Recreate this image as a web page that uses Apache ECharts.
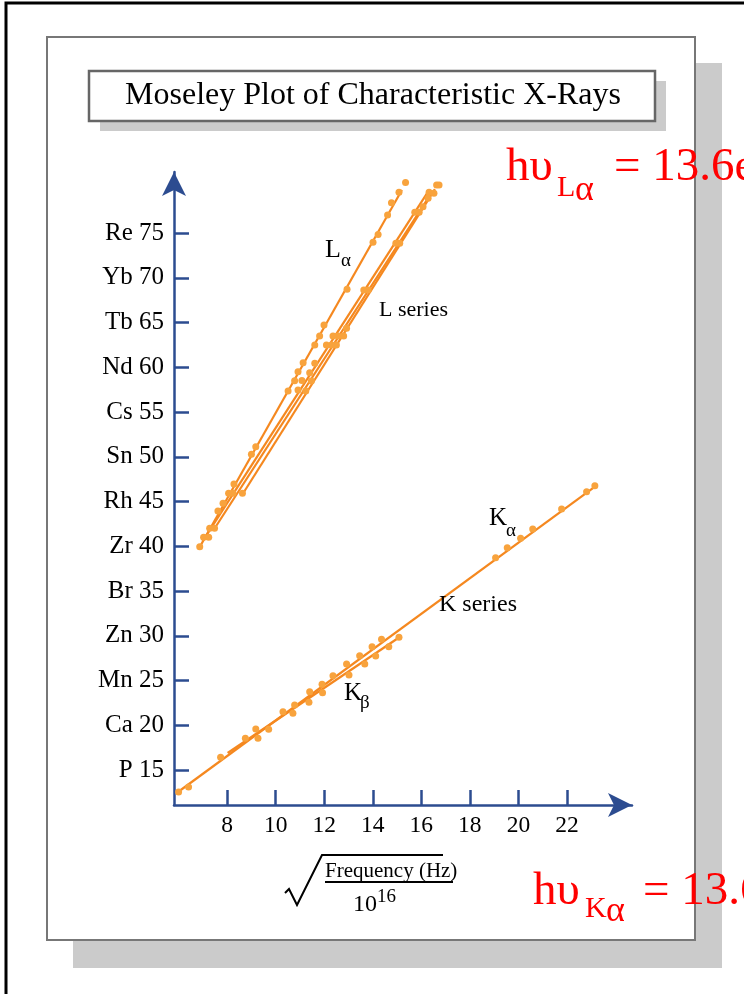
<!DOCTYPE html>
<html>
<head>
<meta charset="utf-8">
<script src="https://cdn.jsdelivr.net/npm/echarts@6/dist/echarts.min.js"></script>
<style>
html,body{margin:0;padding:0;background:#fff;}
#chart{width:744px;height:994px;}
</style>
</head>
<body>
<div id="chart"></div>
<script>
// ---- data ----
const xTicks = [8, 10, 12, 14, 16, 18, 20, 22];
const yTicks = [15, 20, 25, 30, 35, 40, 45, 50, 55, 60, 65, 70, 75];
const yElements = ['P', 'Ca', 'Mn', 'Zn', 'Br', 'Zr', 'Rh', 'Sn', 'Cs', 'Nd', 'Tb', 'Yb', 'Re'];

const kAlphaPoints = [
  [6.00, 12.54], [6.41, 13.10], [7.73, 16.42], [8.75, 18.54], [9.18, 19.58],
  [10.30, 21.51], [10.78, 22.26], [11.40, 23.75], [11.91, 24.58], [12.36, 25.54],
  [12.92, 26.84], [13.46, 27.77], [13.97, 28.78], [14.36, 29.60], [19.06, 38.72],
  [19.54, 39.84], [20.09, 40.89], [20.59, 41.93], [21.78, 44.16], [22.81, 46.09],
  [23.15, 46.77]
];
const kBetaPoints = [
  [9.27, 18.54], [9.71, 19.55], [10.71, 21.34], [11.37, 22.56], [11.93, 23.64],
  [13.02, 25.61], [13.67, 26.84], [14.12, 27.74], [14.66, 28.78], [15.08, 29.83]
];
const lAlphaPoints = [
  [6.87, 39.95], [7.03, 41.00], [7.28, 42.01], [7.62, 43.94], [7.83, 44.80],
  [8.06, 45.92], [8.28, 46.96], [9.00, 50.27], [9.18, 51.12], [10.51, 57.35],
  [10.78, 58.50], [10.92, 59.50], [11.13, 60.51], [11.61, 62.49], [11.81, 63.49],
  [11.99, 64.72], [12.94, 68.71], [14.01, 73.96], [14.22, 74.85], [14.61, 77.01],
  [14.77, 78.39], [15.08, 79.55], [15.35, 80.66]
];
const lSeriesPoints = [
  [16.63, 80.36], [16.73, 80.36], [16.32, 79.55], [16.52, 79.44], [16.28, 78.88],
  [16.07, 77.94], [15.91, 77.31], [15.73, 77.31], [15.11, 73.85], [14.95, 73.85],
  [13.81, 68.63], [13.63, 68.63], [12.92, 64.35], [12.80, 63.49], [12.57, 63.49],
  [12.36, 63.49], [12.50, 62.49], [12.30, 62.49], [12.09, 62.49], [11.61, 60.44],
  [11.40, 59.39], [11.08, 58.52], [11.47, 58.46], [10.92, 57.46], [11.24, 57.35],
  [8.24, 45.92], [8.63, 45.92], [7.48, 42.01], [7.24, 41.00]
];
const kAlphaFit = [[5.92, 12.43], [23.24, 46.84]];
const kBetaFit = [[8.02, 16.90], [15.11, 29.86]];
const lAlphaFit = [[6.87, 39.92], [15.20, 79.80]];
const lFit1 = [[6.99, 40.58], [16.32, 79.80]];
const lFit2 = [[7.44, 41.82], [16.44, 79.58]];
const lFit3 = [[8.64, 45.84], [16.56, 79.91]];

// ---- styles ----
const SERIF = '"Liberation Serif", "DejaVu Serif", serif';
const AXIS = '#2c4c90';
const LINE = '#f5881f';
const DOT = '#f8a33d';
const SHADOW = '#cbcbcb';

function txt(x, y, text, size, color, align, z) {
  return {
    type: 'text', x: x, y: y, z: z == null ? 50 : z, silent: true,
    style: { text: text, fontSize: size, fontFamily: SERIF, fill: color || '#000',
             align: align || 'left', verticalAlign: 'middle' }
  };
}

const chart = echarts.init(document.getElementById('chart'), null, { renderer: 'canvas' });

const fitSeries = [kAlphaFit, kBetaFit, lAlphaFit, lFit1, lFit2, lFit3].map(function (d) {
  return {
    type: 'line', data: d, symbol: 'none', clip: false, silent: true, z: 2,
    lineStyle: { color: LINE, width: 2.2 }
  };
});
const dotSeries = [kAlphaPoints, kBetaPoints, lAlphaPoints, lSeriesPoints].map(function (d) {
  return {
    type: 'scatter', data: d, symbolSize: 7, clip: false, silent: true, z: 3,
    itemStyle: { color: DOT, opacity: 1 }
  };
});

const option = {
  animation: false,
  backgroundColor: '#fff',
  grid: { left: 174, right: 112, top: 172, bottom: 189, containLabel: false },
  xAxis: {
    type: 'value', min: 5.81, max: 24.68,
    axisLine: { show: true, symbol: ['none', 'arrow'], symbolSize: [18, 24],
                lineStyle: { color: AXIS, width: 2.5 } },
    axisTick: { show: true, inside: true, length: 15, customValues: xTicks,
                lineStyle: { color: AXIS, width: 2.5 } },
    axisLabel: { show: true, customValues: xTicks, margin: 9, fontSize: 23.5,
                 fontFamily: SERIF, color: '#000' },
    splitLine: { show: false }
  },
  yAxis: {
    type: 'value', min: 11.09, max: 81.82,
    axisLine: { show: true, symbol: ['none', 'arrow'], symbolSize: [18, 24],
                lineStyle: { color: AXIS, width: 2.5 } },
    axisTick: { show: true, inside: true, length: 15, customValues: yTicks,
                lineStyle: { color: AXIS, width: 2.5 } },
    axisLabel: { show: true, customValues: yTicks, margin: 10, fontSize: 25,
                 fontFamily: SERIF, color: '#000',
                 formatter: function (v) {
                   const i = yTicks.indexOf(Math.round(v));
                   return (i >= 0 ? yElements[i] + ' ' : '') + Math.round(v);
                 } },
    splitLine: { show: false }
  },
  graphic: [
    // frames
    { type: 'rect', z: -10, silent: true, shape: { x: 6, y: 3, width: 780, height: 1030 },
      style: { fill: '#fff', stroke: '#000', lineWidth: 3 } },
    { type: 'rect', z: -9, silent: true, shape: { x: 73, y: 63, width: 649, height: 905 },
      style: { fill: SHADOW } },
    { type: 'rect', z: -8, silent: true, shape: { x: 47, y: 37, width: 648, height: 903 },
      style: { fill: '#fff', stroke: '#777', lineWidth: 2 } },
    { type: 'rect', z: -7, silent: true, shape: { x: 100, y: 81, width: 566, height: 50 },
      style: { fill: SHADOW } },
    { type: 'rect', z: -6, silent: true, shape: { x: 89, y: 71, width: 566, height: 50 },
      style: { fill: '#fff', stroke: '#666', lineWidth: 2.5 } },
    txt(373, 96, 'Moseley Plot of Characteristic X-Rays', 32, '#000', 'center'),

    // series annotations
    txt(325, 250, 'L', 26), txt(341, 261, 'α', 19),
    txt(379, 310, 'L series', 22),
    txt(489, 518, 'K', 25), txt(506, 531, 'α', 19),
    txt(439, 605, 'K series', 24),
    txt(344, 693, 'K', 25), txt(360, 703, 'β', 19),

    // x-axis title: sqrt(Frequency (Hz) / 10^16)
    { type: 'polyline', z: 50, silent: true,
      shape: { points: [[285, 893], [289, 889], [297, 905], [322, 855], [443, 855]] },
      style: { stroke: '#000', lineWidth: 2, fill: null } },
    { type: 'line', z: 50, silent: true, shape: { x1: 325, y1: 882, x2: 453, y2: 882 },
      style: { stroke: '#000', lineWidth: 2 } },
    txt(325, 871, 'Frequency (Hz)', 21),
    txt(353, 905, '10', 24),
    txt(377, 897, '16', 19),

    // red formulas
    txt(506, 168, 'hυ', 47, '#ff0000', 'left', 100),
    txt(557, 188, 'L', 30, '#ff0000', 'left', 100),
    txt(575, 191, 'α', 36, '#ff0000', 'left', 100),
    txt(614, 168, '= 13.6eV', 47, '#ff0000', 'left', 100),
    txt(533, 892, 'hυ', 47, '#ff0000', 'left', 100),
    txt(585, 909, 'K', 30, '#ff0000', 'left', 100),
    txt(606, 912, 'α', 36, '#ff0000', 'left', 100),
    txt(643, 892, '= 13.6eV', 47, '#ff0000', 'left', 100)
  ],
  series: fitSeries.concat(dotSeries)
};
chart.setOption(option);
</script>
</body>
</html>
